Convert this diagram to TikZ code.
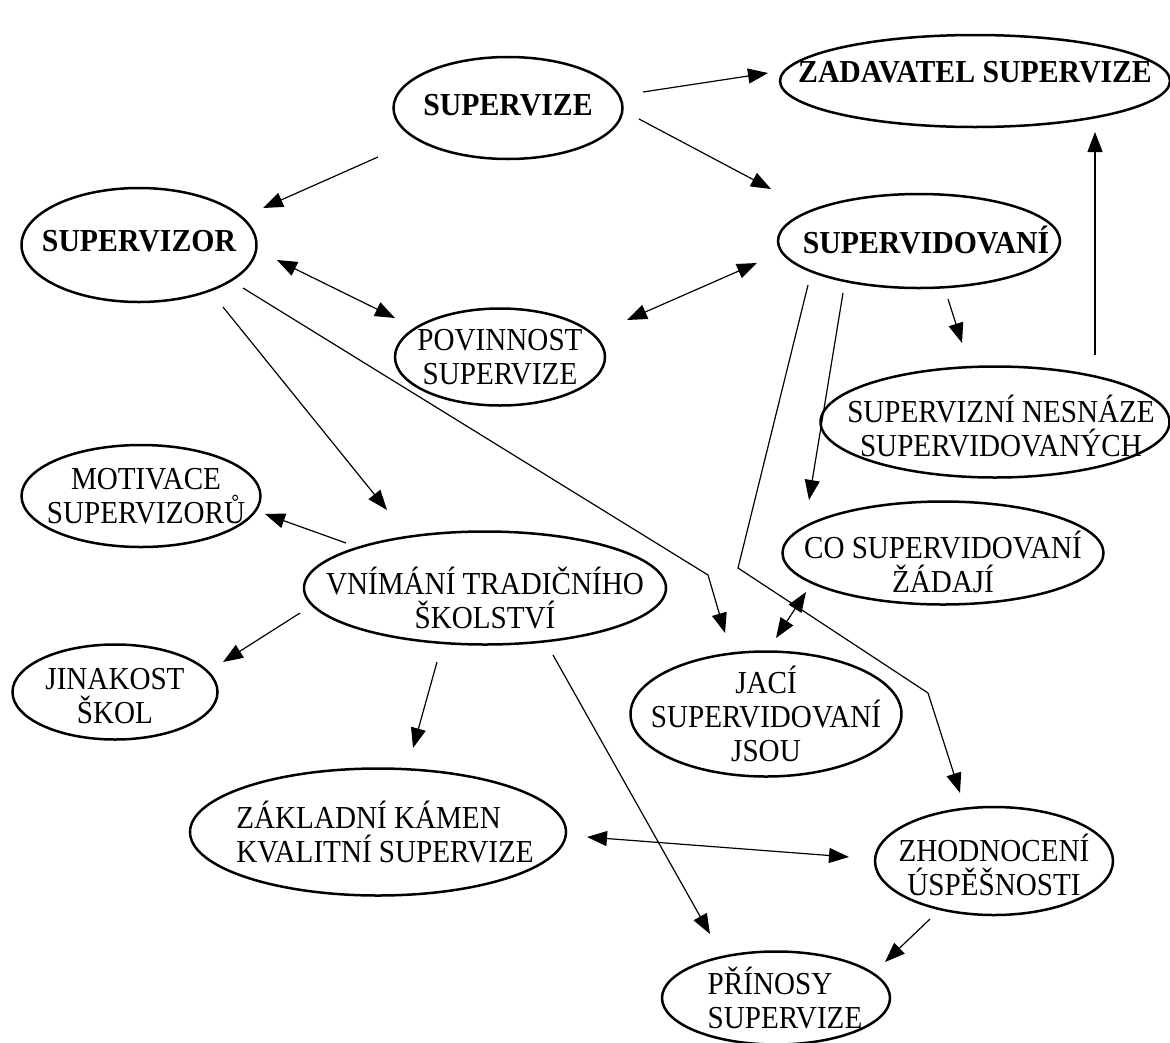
\documentclass[tikz,border=0pt]{standalone}
\usepackage{fontspec}
\setmainfont{Liberation Serif}[FakeStretch=0.91,BoldFeatures={FakeStretch=0.93}]
\usetikzlibrary{arrows.meta,calc,shapes.geometric}
\begin{document}
\begin{tikzpicture}[x=1pt,y=-1pt,
  el/.style={draw, ellipse, line width=2.5pt, inner sep=0pt},
  txt/.style={font=\fontsize{32}{34}\selectfont, align=center, inner sep=0pt},
  ltxt/.style={font=\fontsize{32}{34}\selectfont, align=left, inner sep=0pt},
  btxt/.style={font=\fontsize{32}{34}\selectfont\bfseries, align=center, inner sep=0pt},
  tip/.tip={Triangle[length=20pt,width=15pt]},
  arr/.style={line width=1.2pt, -tip},
  darr/.style={line width=1.2pt, tip-tip}]
\useasboundingbox[fill=white] (0,0) rectangle (1170,1042);

\node[el, minimum width=229, minimum height=102, label={[btxt,yshift=3pt]center:SUPERVIZE}] (sup) at (508,108) {};
\node[el, minimum width=390, minimum height=92, label={[btxt,yshift=9pt]center:ZADAVATEL SUPERVIZE}] (zad) at (975,81) {};
\node[el, minimum width=235, minimum height=114, label={[btxt,yshift=4pt]center:SUPERVIZOR}] (svor) at (139,245) {};
\node[el, minimum width=282, minimum height=94, label={[btxt,xshift=7pt,yshift=1pt]center:SUPERVIDOVANÍ}] (svan) at (919,241) {};
\node[el, minimum width=210, minimum height=97, label={[txt]center:{POVINNOST\\SUPERVIZE}}] (pov) at (500,357) {};
\node[el, minimum width=349, minimum height=111, label={[txt,xshift=6pt,yshift=-4pt]center:{SUPERVIZNÍ NESNÁZE\\SUPERVIDOVANÝCH}}] (nes) at (995,422) {};
\node[el, minimum width=239, minimum height=102, label={[txt,xshift=5pt]center:{MOTIVACE\\SUPERVIZORŮ}}] (mot) at (141,496) {};
\node[el, minimum width=362, minimum height=113, label={[txt,yshift=-10pt]center:{VNÍMÁNÍ TRADIČNÍHO\\ŠKOLSTVÍ}}] (vni) at (485,588) {};
\node[el, minimum width=321, minimum height=103, label={[txt,yshift=-9pt]center:{CO SUPERVIDOVANÍ\\ŽÁDAJÍ}}] (co) at (943,553) {};
\node[el, minimum width=205, minimum height=95, label={[txt,yshift=-4pt]center:{JINAKOST\\ŠKOL}}] (jin) at (115,692) {};
\node[el, minimum width=271, minimum height=125, label={[txt]center:{JACÍ\\SUPERVIDOVANÍ\\JSOU}}] (jac) at (766,714) {};
\node[el, minimum width=376, minimum height=127, label={[ltxt,xshift=7pt]center:{ZÁKLADNÍ KÁMEN\\KVALITNÍ SUPERVIZE}}] (zak) at (378,832) {};
\node[el, minimum width=238, minimum height=108, label={[txt,yshift=-4pt]center:{ZHODNOCENÍ\\ÚSPĚŠNOSTI}}] (zho) at (994,861) {};
\node[el, minimum width=228, minimum height=93, label={[ltxt,xshift=9pt]center:{PŘÍNOSY\\SUPERVIZE}}] (pri) at (776,998) {};

\coordinate (k1) at (738,568);
\coordinate (k2) at (928,693);
\coordinate (k3) at (708,575);

\draw[arr] ($(sup)+(135,-16)$) -- ($(zad)+(-207,-8)$);
\draw[arr] ($(sup)+(131,11)$) -- ($(svan)+(-148,-52)$);
\draw[arr] ($(sup)+(-130,49)$) -- ($(svor)+(124,-37)$);
\draw[darr] ($(svor)+(138,15)$) -- ($(pov)+(-105,-39)$);
\draw[darr] ($(svan)+(-162,22)$) -- ($(pov)+(127,-37)$);
\draw[arr] ($(svan)+(29,58)$) -- ($(nes)+(-33,-79)$);
\draw[arr] ($(nes)+(100,-67)$) -- ($(zad)+(120,51)$);
\draw[arr] ($(svan)+(-76,52)$) -- ($(co)+(-134,-53)$);
\draw[arr] ($(svan)+(-111,44)$) -- (k1) -- (k2) -- ($(zho)+(-34,-68)$);
\draw[arr] ($(svor)+(104,43)$) -- (k3) -- ($(jac)+(-41,-81)$);
\draw[arr] ($(svor)+(84,62)$) -- ($(vni)+(-98,-78)$);
\draw[arr] ($(vni)+(-139,-45)$) -- ($(mot)+(124,18)$);
\draw[arr] ($(vni)+(-185,25)$) -- ($(jin)+(108,-30)$);
\draw[arr] ($(vni)+(-48,74)$) -- ($(zak)+(35,-84)$);
\draw[arr] ($(vni)+(68,67)$) -- ($(pri)+(-66,-64)$);
\draw[darr] ($(co)+(-137,39)$) -- ($(jac)+(10,-76)$);
\draw[darr] ($(zak)+(209,5)$) -- ($(zho)+(-145,-4)$);
\draw[arr] ($(zho)+(-64,58)$) -- ($(pri)+(109,-36)$);
\end{tikzpicture}
\end{document}
